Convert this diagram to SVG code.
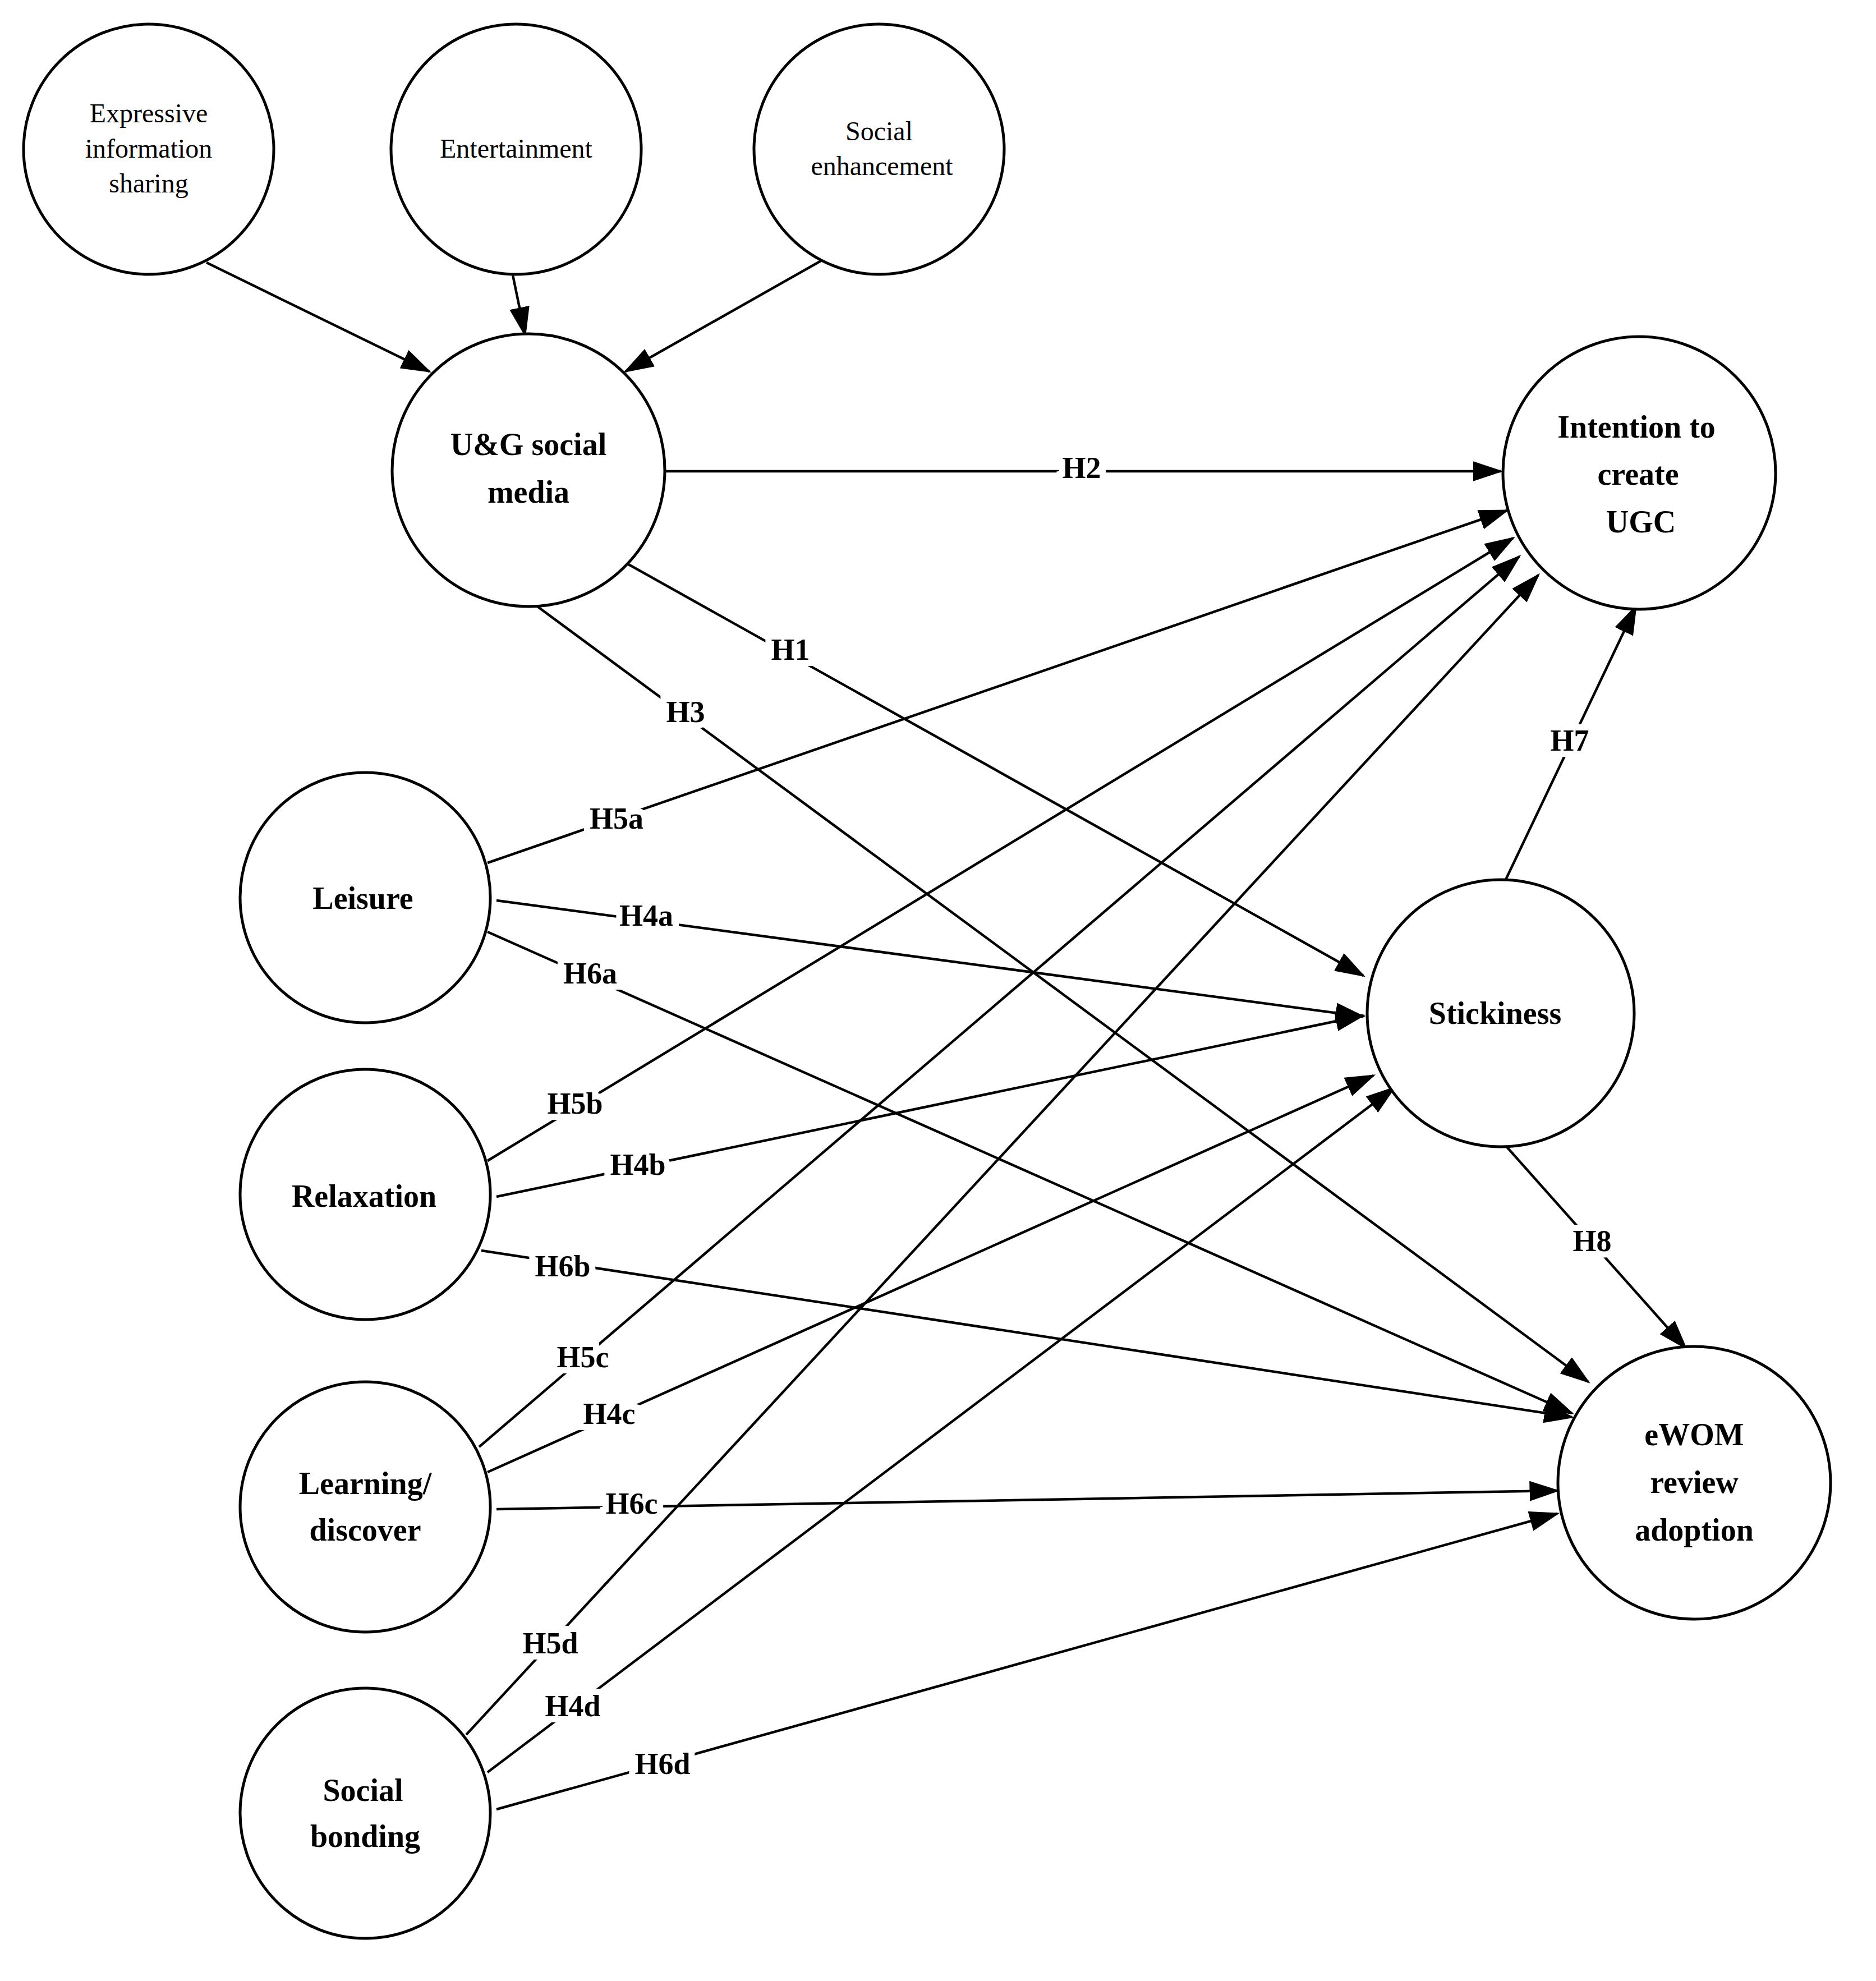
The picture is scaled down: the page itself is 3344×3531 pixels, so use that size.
<svg xmlns="http://www.w3.org/2000/svg" width="3344" height="3531" viewBox="0 0 3344 3531">
<defs>
<style>
.n{fill:#fff;stroke:#000;stroke-width:5}
.t{font-family:"Liberation Serif",serif;font-size:48px;text-anchor:middle;dominant-baseline:middle}
.b{font-family:"Liberation Serif",serif;font-size:56px;font-weight:bold;text-anchor:middle;dominant-baseline:middle}
.e line{stroke:#000;stroke-width:4.5;marker-end:url(#a)}
.l{font-family:"Liberation Serif",serif;font-size:54px;font-weight:bold;text-anchor:middle;dominant-baseline:middle;stroke:#fff;stroke-width:22;paint-order:stroke}
</style>
<marker id="a" markerWidth="12" markerHeight="8" refX="11" refY="4" orient="auto" markerUnits="strokeWidth"><path d="M0,0L12,4L0,8z" fill="#000"/></marker>
</defs>
<rect width="3344" height="3531" fill="#fff"/>
<g class="e">
<line x1="368" y1="468" x2="765" y2="662"/>
<line x1="914" y1="490" x2="936" y2="597"/>
<line x1="1465" y1="464" x2="1115" y2="662"/>
<line x1="1186" y1="840" x2="2675" y2="840"/>
<line x1="1115" y1="1003" x2="2430" y2="1739"/>
<line x1="943" y1="1070" x2="2831" y2="2463"/>
<line x1="869" y1="1538" x2="2686" y2="910"/>
<line x1="885" y1="1605" x2="2430" y2="1812"/>
<line x1="869" y1="1661" x2="2802" y2="2519"/>
<line x1="869" y1="2069" x2="2697" y2="959"/>
<line x1="885" y1="2133" x2="2430" y2="1810"/>
<line x1="858" y1="2229" x2="2802" y2="2526"/>
<line x1="854" y1="2579" x2="2708" y2="992"/>
<line x1="869" y1="2624" x2="2448" y2="1917"/>
<line x1="885" y1="2690" x2="2776" y2="2657"/>
<line x1="831" y1="3092" x2="2742" y2="1025"/>
<line x1="869" y1="3159" x2="2485" y2="1939"/>
<line x1="885" y1="3225" x2="2776" y2="2698"/>
<line x1="2682" y1="1572" x2="2916" y2="1081"/>
<line x1="2682" y1="2040" x2="3005" y2="2403"/>
</g>
<g id="labels">
<text class="l" x="1928" y="840">H2</text>
<text class="l" x="1409" y="1164">H1</text>
<text class="l" x="1222" y="1275">H3</text>
<text class="l" x="1099" y="1465">H5a</text>
<text class="l" x="1152" y="1638">H4a</text>
<text class="l" x="1052" y="1741">H6a</text>
<text class="l" x="1025" y="1973">H5b</text>
<text class="l" x="1137" y="2082">H4b</text>
<text class="l" x="1003" y="2263">H6b</text>
<text class="l" x="1039" y="2425">H5c</text>
<text class="l" x="1086" y="2526">H4c</text>
<text class="l" x="1126" y="2686">H6c</text>
<text class="l" x="981" y="2935">H5d</text>
<text class="l" x="1021" y="3047">H4d</text>
<text class="l" x="1181" y="3150">H6d</text>
<text class="l" x="2798" y="1326">H7</text>
<text class="l" x="2838" y="2218">H8</text>
</g>
<g id="expressive"><circle class="n" cx="265" cy="266" r="223"/><text class="t" x="265" y="207">Expressive</text><text class="t" x="265" y="270">information</text><text class="t" x="265" y="332">sharing</text></g>
<g id="entertainment"><circle class="n" cx="920" cy="266" r="223"/><text class="t" x="920" y="270">Entertainment</text></g>
<g id="social-enhancement"><circle class="n" cx="1567" cy="266" r="223"/><text class="t" x="1567" y="239">Social</text><text class="t" x="1572" y="301">enhancement</text></g>
<g id="ug"><circle class="n" cx="942" cy="838" r="243"/><text class="b" x="942" y="798">U&amp;G social</text><text class="b" x="942" y="883">media</text></g>
<g id="intention"><circle class="n" cx="2922" cy="843" r="243"/><text class="b" x="2917" y="767">Intention to</text><text class="b" x="2920" y="851">create</text><text class="b" x="2925" y="936">UGC</text></g>
<g id="leisure"><circle class="n" cx="651" cy="1600" r="223"/><text class="b" x="647" y="1607">Leisure</text></g>
<g id="relaxation"><circle class="n" cx="651" cy="2129" r="223"/><text class="b" x="649" y="2138">Relaxation</text></g>
<g id="learning"><circle class="n" cx="651" cy="2686" r="223"/><text class="b" x="651" y="2650">Learning/</text><text class="b" x="651" y="2733">discover</text></g>
<g id="bonding"><circle class="n" cx="651" cy="3232" r="223"/><text class="b" x="647" y="3197">Social</text><text class="b" x="651" y="3279">bonding</text></g>
<g id="stickiness"><circle class="n" cx="2675" cy="1806" r="238"/><text class="b" x="2665" y="1812">Stickiness</text></g>
<g id="ewom"><circle class="n" cx="3020" cy="2643" r="243"/><text class="b" x="3020" y="2563">eWOM</text><text class="b" x="3020" y="2648">review</text><text class="b" x="3020" y="2733">adoption</text></g>
</svg>
